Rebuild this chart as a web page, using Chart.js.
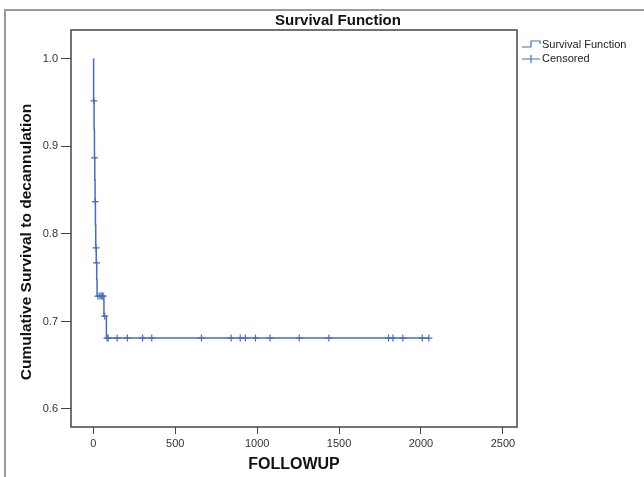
<!DOCTYPE html>
<html>
<head>
<meta charset="utf-8">
<script src="https://cdn.jsdelivr.net/npm/chart.js@4.4.1/dist/chart.umd.min.js"></script>
<style>
  html, body { margin: 0; padding: 0; background: #fff; }
  #wrap { position: relative; width: 644px; height: 477px; overflow: hidden; }
  #frame { position: absolute; left: 4px; top: 9px; width: 700px; height: 520px; border: 2px solid #9a9a9a; box-sizing: border-box; }
  canvas { position: absolute; left: 0; top: 0; }
</style>
</head>
<body>
<div id="wrap">
  <div id="frame"></div>
  <canvas id="chart" width="644" height="477"></canvas>
</div>
<script>
// Kaplan-Meier step points (time, survival)
const survTimes = [0, 2, 5, 7, 9, 11, 13, 15, 18, 21, 23, 65, 80, 2048];
const survValues = [1.0, 0.952, 0.919, 0.887, 0.862, 0.837, 0.81, 0.784, 0.767, 0.748, 0.729, 0.706, 0.681, 0.681];

// censored observations
const censorTimes = [4, 8, 12, 17, 20, 28, 40, 48, 55, 60, 70, 84, 91, 146, 208, 301, 357, 660, 841, 897, 928, 990, 1079, 1257, 1438, 1802, 1829, 1889, 2008, 2048];
const censorValues = [0.952, 0.887, 0.837, 0.784, 0.767, 0.729, 0.729, 0.729, 0.729, 0.729, 0.706, 0.681, 0.681, 0.681, 0.681, 0.681, 0.681, 0.681, 0.681, 0.681, 0.681, 0.681, 0.681, 0.681, 0.681, 0.681, 0.681, 0.681, 0.681, 0.681];

const xTicks = [0, 500, 1000, 1500, 2000, 2500];
const yTicks = [0.6, 0.7, 0.8, 0.9, 1.0];

const blue = '#4a6cc6';
const fontFamily = 'Arial, "Liberation Sans", sans-serif';
Chart.defaults.font.family = fontFamily;

// frame, titles and legend
const decor = {
	id: 'decor',
	afterDraw(chart) {
		const { ctx, chartArea: a } = chart;
		ctx.save();
		ctx.strokeStyle = '#444';
		ctx.lineWidth = 1.5;
		ctx.strokeRect(a.left, a.top, a.right - a.left, a.bottom - a.top);

		ctx.fillStyle = '#111';
		ctx.textAlign = 'center';
		ctx.textBaseline = 'middle';
		ctx.font = 'bold 15px ' + fontFamily;
		ctx.fillText('Survival Function', 338, 21);

		// legend
		ctx.strokeStyle = blue;
		ctx.lineWidth = 1.2;
		ctx.beginPath();
		ctx.moveTo(522, 47);
		ctx.lineTo(531, 47);
		ctx.lineTo(531, 41);
		ctx.lineTo(540, 41);
		ctx.lineTo(540, 44);
		ctx.moveTo(522, 59);
		ctx.lineTo(540, 59);
		ctx.moveTo(531, 55);
		ctx.lineTo(531, 63);
		ctx.stroke();
		ctx.fillStyle = '#222';
		ctx.textAlign = 'left';
		ctx.font = '11px ' + fontFamily;
		ctx.fillText('Survival Function', 542, 45);
		ctx.fillText('Censored', 542, 59);

		// y axis title
		ctx.fillStyle = '#111';
		ctx.textAlign = 'center';
		ctx.translate(27, 242);
		ctx.rotate(-Math.PI / 2);
		ctx.font = 'bold 15.5px ' + fontFamily;
		ctx.fillText('Cumulative Survival to decannulation', 0, 0);
		ctx.restore();
	}
};

const canvas = document.getElementById('chart');

const graph = new Chart(canvas, {
	type: 'scatter',
	data: {
		datasets: [
			{
				label: 'Survival Function',
				data: survTimes.map((t, i) => ({ x: t, y: survValues[i] })),
				showLine: true,
				stepped: true,
				borderColor: blue,
				borderWidth: 1.5,
				pointRadius: 0,
				fill: false
			},
			{
				label: 'Censored',
				data: censorTimes.map((t, i) => ({ x: t, y: censorValues[i] })),
				showLine: false,
				pointStyle: 'cross',
				pointRadius: 3.5,
				borderColor: blue,
				borderWidth: 1.2
			}
		]
	},
	options: {
		responsive: false,
		animation: false,
		devicePixelRatio: 1,
		layout: { padding: { left: 0, top: 30, right: 127, bottom: 0 } },
		plugins: {
			legend: { display: false },
			tooltip: { enabled: false },
			title: { display: false }
		},
		scales: {
			x: {
				type: 'linear',
				min: -136,
				max: 2586,
				afterBuildTicks: (s) => { s.ticks = xTicks.map((v) => ({ value: v })); },
				afterFit: (s) => { s.height = 50; },
				grid: { drawOnChartArea: false, drawTicks: true, tickLength: 7, color: '#444' },
				border: { display: false },
				ticks: { padding: 3, color: '#333', font: { size: 11 }, maxRotation: 0, callback: (v) => String(v) },
				title: { display: true, text: 'FOLLOWUP', color: '#111', font: { size: 16, weight: 'bold' }, padding: { top: 0, bottom: 3 } }
			},
			y: {
				type: 'linear',
				min: 0.5794,
				max: 1.0331,
				afterBuildTicks: (s) => { s.ticks = yTicks.map((v) => ({ value: v })); },
				afterFit: (s) => { s.width = 71; },
				grid: { drawOnChartArea: false, drawTicks: true, tickLength: 10, color: '#444' },
				border: { display: false },
				ticks: { padding: 3, color: '#333', font: { size: 11 }, callback: (v) => v.toFixed(1) }
			}
		}
	},
	plugins: [decor]
});
</script>
</body>
</html>
